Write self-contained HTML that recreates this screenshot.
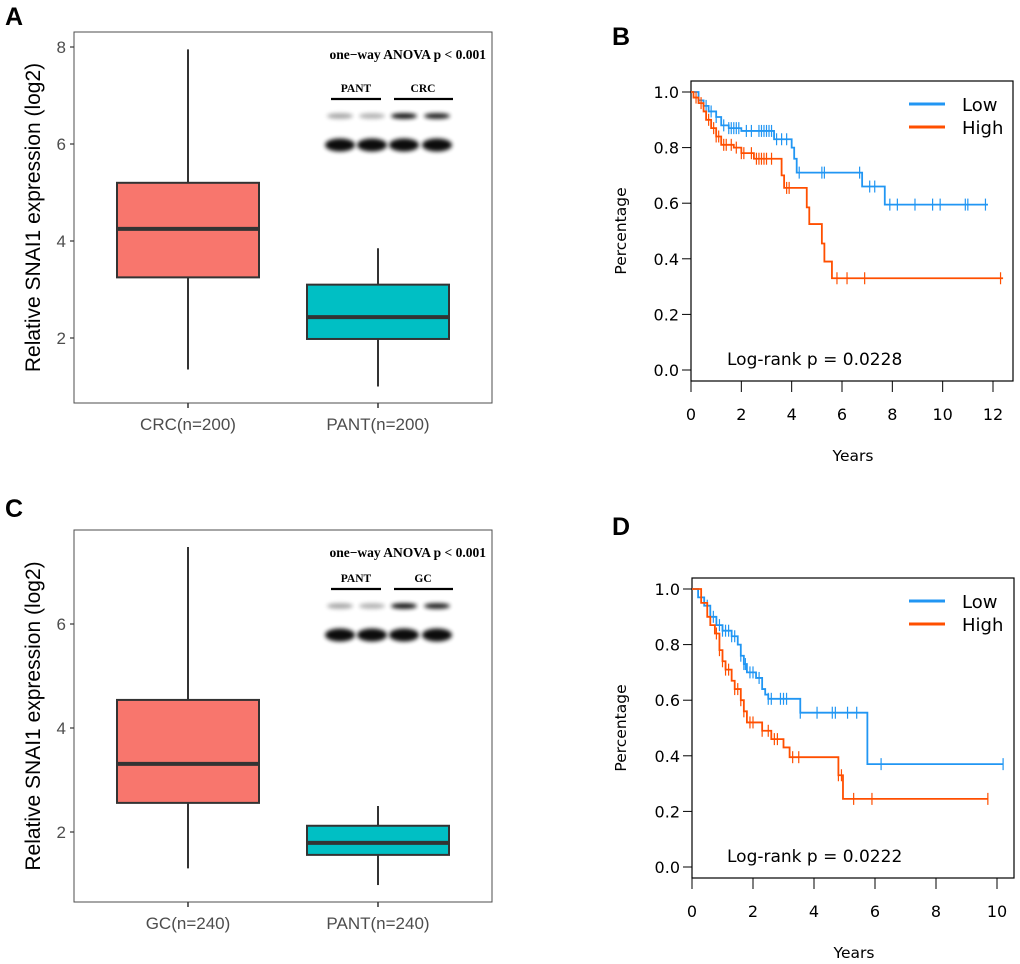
<!DOCTYPE html>
<html><head><meta charset="utf-8"><style>
body{margin:0;background:#fff}
svg{display:block}
</style></head><body>
<svg id="fig" width="1020" height="964" viewBox="0 0 1020 964" xmlns="http://www.w3.org/2000/svg">
<defs><filter id="blur" x="-30%" y="-80%" width="160%" height="260%"><feGaussianBlur stdDeviation="2.2"/></filter></defs>
</svg>
<script>
// ---- Box plot data ----
const boxCatsA = ["CRC(n=200)", "PANT(n=200)"];
const boxStatsA = [[1.35, 3.25, 4.25, 5.2, 7.95], [1.0, 1.98, 2.43, 3.1, 3.85]];
const boxTicksA = [2, 4, 6, 8];
const boxCatsC = ["GC(n=240)", "PANT(n=240)"];
const boxStatsC = [[1.3, 2.56, 3.31, 4.54, 7.48], [0.98, 1.56, 1.79, 2.12, 2.5]];
const boxTicksC = [2, 4, 6];
const boxColors = ["#F8766D", "#00BFC4"];

// ---- KM data B ----
const kmB_lowT = [0, 0.3, 0.5, 0.7, 1.0, 1.2, 1.5, 2.0, 3.3, 4.0, 4.1, 4.2, 6.8, 7.7, 11.8];
const kmB_lowS = [1, 0.97, 0.95, 0.93, 0.91, 0.88, 0.87, 0.86, 0.83, 0.80, 0.76, 0.71, 0.66, 0.595, 0.595];
const kmB_lowC = [0.6,0.8,1.0,1.3,1.5,1.6,1.7,1.8,1.9,2.2,2.4,2.7,2.8,2.9,3.0,3.1,3.2,3.4,3.6,3.8,4.3,5.2,5.3,6.7,7.1,7.3,7.9,8.2,8.9,9.6,9.9,10.9,11.0,11.7];
const kmB_highT = [0, 0.1, 0.3, 0.5, 0.6, 0.8, 1.0, 1.2, 1.7, 2.0, 2.5, 3.6, 3.7, 4.6, 4.7, 5.2, 5.3, 5.6, 12.4];
const kmB_highS = [1, 0.98, 0.96, 0.93, 0.9, 0.87, 0.84, 0.81, 0.80, 0.78, 0.76, 0.70, 0.655, 0.585, 0.525, 0.455, 0.39, 0.33, 0.33];
const kmB_highC = [0.2,0.4,0.7,0.9,1.0,1.1,1.3,1.4,1.6,1.8,2.0,2.1,2.4,2.6,2.7,2.8,2.9,3.0,3.2,3.8,3.9,5.8,6.2,6.9,12.3];
const kmB_xTicks = [0, 2, 4, 6, 8, 10, 12];
// ---- KM data D ----
const kmD_lowT = [0, 0.2, 0.4, 0.6, 0.8, 1.0, 1.3, 1.5, 1.6, 1.7, 1.8, 2.1, 2.3, 2.4, 2.5, 3.55, 5.75, 10.2];
const kmD_lowS = [1, 0.97, 0.94, 0.90, 0.87, 0.85, 0.83, 0.80, 0.76, 0.73, 0.70, 0.68, 0.64, 0.62, 0.605, 0.555, 0.37, 0.37];
const kmD_lowC = [0.3,0.5,0.7,0.9,1.0,1.1,1.2,1.3,1.4,1.6,1.7,1.75,1.9,2.0,2.2,2.5,2.6,2.9,3.0,3.1,3.55,4.1,4.6,4.7,5.1,5.4,6.2,10.2];
const kmD_highT = [0, 0.3, 0.5, 0.6, 0.75, 0.9, 1.0, 1.1, 1.3, 1.4, 1.6, 1.7, 1.8, 2.3, 2.6, 3.0, 3.2, 4.8, 4.95, 9.7];
const kmD_highS = [1, 0.95, 0.90, 0.87, 0.84, 0.78, 0.74, 0.71, 0.67, 0.64, 0.60, 0.56, 0.52, 0.49, 0.46, 0.43, 0.395, 0.33, 0.245, 0.245];
const kmD_highC = [0.8,0.9,1.0,1.1,1.2,1.4,1.5,1.6,1.7,1.9,2.0,2.3,2.5,2.7,2.8,3.3,3.5,4.8,4.9,5.3,5.9,9.7];
const kmD_xTicks = [0, 2, 4, 6, 8, 10];
const kmYTicks = [0.0, 0.2, 0.4, 0.6, 0.8, 1.0];

const svg = document.getElementById('fig');
const NS = 'http://www.w3.org/2000/svg';
function mk(tag, attrs, parent, text) {
  const e = document.createElementNS(NS, tag);
  for (const k in attrs) e.setAttribute(k, attrs[k]);
  if (text !== undefined) e.textContent = text;
  (parent || svg).appendChild(e);
  return e;
}

function boxPanel(letter, top, box, y0v, ppu, cats, stats, ticks, cat2, yAnova, lineY) {
  const g = mk('g', {});
  
  
  const lab = mk('text', {x: 5, y: top + 22, 'font-family': 'Liberation Sans, sans-serif', 'font-weight': 'bold', 'font-size': 25, fill: '#000'}, g, letter);
  
  
  const yS = v => y0v - (v - 2) * ppu;
  const frame = mk('rect', {x: box.x0, y: box.y0, width: box.x1 - box.x0, height: box.y1 - box.y0, fill: 'none', stroke: '#4d4d4d', 'stroke-width': 1}, g);
  
  
  ticks.forEach(t => {
    const y = yS(t);
    mk('line', {x1: box.x0 - 4, x2: box.x0, y1: y, y2: y, stroke: '#333', 'stroke-width': 1.2}, g);
    const tl = mk('text', {x: box.x0 - 8, y: y + 6, 'text-anchor': 'end', 'font-family': 'Liberation Sans, sans-serif', 'font-size': 17, fill: '#4d4d4d'}, g, String(t));
    
    
  });
  const yt = mk('text', {transform: `translate(40,${(box.y0 + box.y1) / 2}) rotate(-90)`, 'text-anchor': 'middle', 'font-family': 'Liberation Sans, sans-serif', 'font-size': 21, fill: '#000'}, g, 'Relative SNAI1 expression (log2)');
  
  
  const centers = [188, 378];
  cats.forEach((c, i) => {
    const cx = centers[i], s = stats[i], hw = 71;
    mk('line', {x1: cx, x2: cx, y1: box.y1, y2: box.y1 + 5, stroke: '#333', 'stroke-width': 1.5}, g);
    const xl = mk('text', {x: cx, y: box.y1 + 27, 'text-anchor': 'middle', 'font-family': 'Liberation Sans, sans-serif', 'font-size': 17, fill: '#4d4d4d'}, g, c);
    
    
    const w = mk('line', {x1: cx, x2: cx, y1: yS(s[0]), y2: yS(s[4]), stroke: '#333', 'stroke-width': 2}, g);
    
    
    const r = mk('rect', {x: cx - hw, y: yS(s[3]), width: hw * 2, height: yS(s[1]) - yS(s[3]), fill: boxColors[i], stroke: '#333', 'stroke-width': 2}, g);
    
    
    const m = mk('line', {x1: cx - hw, x2: cx + hw, y1: yS(s[2]), y2: yS(s[2]), stroke: '#333', 'stroke-width': 4}, g);
    
    
  });
  const an = mk('text', {x: 486, y: yAnova, 'text-anchor': 'end', 'font-family': 'Liberation Serif, serif', 'font-weight': 'bold', 'font-size': 13.5, fill: '#000'}, g, 'one\u2212way ANOVA p < 0.001');
  
  
  // western blot inset
  const wb = mk('g', {}, g);
  
  
  const ly = lineY;
  mk('text', {x: 356, y: ly - 7, 'text-anchor': 'middle', 'font-family': 'Liberation Serif, serif', 'font-weight': 'bold', 'font-size': 11.5}, wb, 'PANT');
  mk('text', {x: 423, y: ly - 7, 'text-anchor': 'middle', 'font-family': 'Liberation Serif, serif', 'font-weight': 'bold', 'font-size': 11.5}, wb, cat2);
  mk('line', {x1: 331, x2: 381, y1: ly, y2: ly, stroke: '#000', 'stroke-width': 2.2}, wb);
  mk('line', {x1: 394, x2: 453, y1: ly, y2: ly, stroke: '#000', 'stroke-width': 2.2}, wb);
  const lanes = [340, 372, 404, 437];
  const upOp = [0.35, 0.3, 0.95, 0.9];
  lanes.forEach((lx, i) => {
    mk('ellipse', {cx: lx, cy: ly + 17, rx: 13, ry: 2.8, fill: '#000', opacity: upOp[i], filter: 'url(#blur)'}, wb);
    mk('ellipse', {cx: lx, cy: ly + 46, rx: 15, ry: 6.5, fill: '#000', opacity: 0.95, filter: 'url(#blur)'}, wb);
  });
}

function kmPanel(letter, top, box, xmax, xTicks, series, pText) {
  const g = mk('g', {});
  
  
  const lab = mk('text', {x: 612, y: top + 20, 'font-family': 'Liberation Sans, sans-serif', 'font-weight': 'bold', 'font-size': 25, fill: '#000'}, g, letter);
  
  
  const xS = v => box.x0 + v * (box.xt1 - box.x0) / xmax;
  const yS = v => box.y0v - v * (box.y0v - box.y1v);
  const frame = mk('rect', {x: box.x0, y: box.y0, width: box.x1 - box.x0, height: box.y1 - box.y0, fill: 'none', stroke: '#000', 'stroke-width': 1.2}, g);
  
  
  kmYTicks.forEach(t => {
    const y = yS(t);
    mk('line', {x1: box.x0 - 9, x2: box.x0, y1: y, y2: y, stroke: '#000', 'stroke-width': 1}, g);
    const tl = mk('text', {x: box.x0 - 12, y: y + 6, 'text-anchor': 'end', 'font-family': 'DejaVu Sans, sans-serif', 'font-size': 16, fill: '#000'}, g, t.toFixed(1));
    
    
  });
  xTicks.forEach(t => {
    const x = xS(t);
    mk('line', {x1: x, x2: x, y1: box.y1, y2: box.y1 + 11, stroke: '#000', 'stroke-width': 1}, g);
    const tl = mk('text', {x: x, y: box.y1 + 39, 'text-anchor': 'middle', 'font-family': 'DejaVu Sans, sans-serif', 'font-size': 16, fill: '#000'}, g, String(t));
    
    
  });
  const xt = mk('text', {x: (box.x0 + box.x1) / 2 + 1, y: box.y1 + 80, 'text-anchor': 'middle', 'font-family': 'DejaVu Sans, sans-serif', 'font-size': 15.5}, g, 'Years');
  
  
  const yt = mk('text', {transform: `translate(626,${(box.y0 + box.y1) / 2}) rotate(-90)`, 'text-anchor': 'middle', 'font-family': 'DejaVu Sans, sans-serif', 'font-size': 15.5}, g, 'Percentage');
  
  
  series.forEach(s => {
    let d = `M${xS(s.t[0])},${yS(s.s[0])}`;
    for (let i = 1; i < s.t.length; i++) d += `H${xS(s.t[i])}V${yS(s.s[i])}`;
    const p = mk('path', {d: d, fill: 'none', stroke: s.color, 'stroke-width': 1.8}, g);
    
    
    s.c.forEach(ct => {
      let sv = s.s[0];
      for (let i = 0; i < s.t.length; i++) if (s.t[i] <= ct) sv = s.s[i];
      const y = yS(sv), x = xS(ct);
      const cm = mk('line', {x1: x, x2: x, y1: y - 6, y2: y + 6, stroke: s.color, 'stroke-width': 1.2}, g);
      
      
    });
  });
  series.forEach((s, i) => {
    const ly = box.y0 + 23 + i * 23;
    const le = mk('g', {}, g);
    
    
    mk('line', {x1: 909, x2: 945, y1: ly, y2: ly, stroke: s.color, 'stroke-width': 3}, le);
    mk('text', {x: 962, y: ly + 7, 'font-family': 'DejaVu Sans, sans-serif', 'font-size': 18}, le, s.name);
  });
  const pt = mk('text', {x: 727, y: box.y0v - 5, 'font-family': 'DejaVu Sans, sans-serif', 'font-size': 17}, g, pText);
  
  
}

boxPanel('A', 3, {x0: 74, x1: 492, y0: 32, y1: 403}, 338, 48.5, boxCatsA, boxStatsA, boxTicksA, 'CRC', 59, 99);
boxPanel('C', 495, {x0: 74, x1: 492, y0: 530, y1: 902}, 832, 52, boxCatsC, boxStatsC, boxTicksC, 'GC', 557, 589);

kmPanel('B', 25, {x0: 691, x1: 1013, y0: 81, y1: 381, xt1: 993, y0v: 370, y1v: 92}, 12, kmB_xTicks,
  [{name: 'Low', color: '#2196F3', t: kmB_lowT, s: kmB_lowS, c: kmB_lowC},
   {name: 'High', color: '#FF4F00', t: kmB_highT, s: kmB_highS, c: kmB_highC}], 'Log-rank p = 0.0228');
kmPanel('D', 515, {x0: 692, x1: 1014, y0: 578, y1: 878, xt1: 997, y0v: 867, y1v: 589}, 10, kmD_xTicks,
  [{name: 'Low', color: '#2196F3', t: kmD_lowT, s: kmD_lowS, c: kmD_lowC},
   {name: 'High', color: '#FF4F00', t: kmD_highT, s: kmD_highS, c: kmD_highC}], 'Log-rank p = 0.0222');
</script>
</body></html>
